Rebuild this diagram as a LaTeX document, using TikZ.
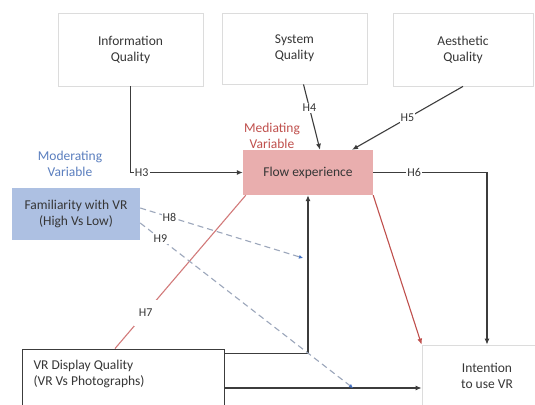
\documentclass[tikz,border=0pt]{standalone}
\usepackage{fontspec}
\setmainfont{Carlito}
\usetikzlibrary{arrows.meta,calc}
\definecolor{txt}{HTML}{363636}
\definecolor{linegrey}{HTML}{3C3C3C}
\definecolor{boxgrey}{HTML}{DCDCDC}
\definecolor{flowpink}{HTML}{E9AEAE}
\definecolor{famblue}{HTML}{ADC0E2}
\definecolor{medred}{HTML}{C0504D}
\definecolor{h7red}{HTML}{D27A7A}
\definecolor{modgrey}{HTML}{9CA7BB}
\definecolor{tipblue}{HTML}{4472C4}
\definecolor{modtext}{HTML}{5B7FBF}
\tikzset{
  boxtext/.style={font=\fontsize{13.5}{16}\selectfont, text=txt, align=center},
  greybox/.style={draw=boxgrey, line width=0.8pt, fill=white, boxtext, inner sep=0pt},
  conn/.style={draw=linegrey, line width=1.1pt, -{Latex[length=6pt,width=5pt]}},
  redconn/.style={draw=medred, line width=1.1pt, -{Latex[length=6pt,width=5pt]}},
  h7line/.style={draw=h7red, line width=1.1pt},
  modconn/.style={draw=modgrey, line width=1.1pt, dash pattern=on 6pt off 4pt,
    -{Latex[length=4pt,width=4pt,color=tipblue]}},
  hlab/.style={font=\fontsize{12}{14}\selectfont, text=txt, fill=white, inner sep=1pt}
}
\begin{document}
\begin{tikzpicture}[x=1pt,y=-1pt]
\clip (0,0) rectangle (535,404);
\fill[white] (0,0) rectangle (535,404);

% constructs
\node[greybox, minimum width=145pt, minimum height=73pt] (info) at (130.5,49.5) {Information\\Quality};
\node[greybox, minimum width=145pt, minimum height=71pt] (sys) at (294.5,48.5) {System\\Quality};
\node[greybox, minimum width=140pt, minimum height=73pt] (aes) at (463,49.5) {Aesthetic\\Quality};
\node[fill=flowpink, boxtext, inner sep=0pt, minimum width=130pt, minimum height=45pt] (flow) at (308,172.5) {Flow experience};
\node[fill=famblue, boxtext, inner sep=0pt, minimum width=128pt, minimum height=52pt] (fam) at (76,214) {Familiarity with VR\\(High Vs Low)};
\node[draw=linegrey, line width=0.9pt, fill=white, inner sep=0pt, minimum width=202pt, minimum height=80pt] (vr) at (123,389) {};
\node[boxtext, align=left, anchor=west] (vrtext) at (30,374) {VR Display Quality\\(VR Vs Photographs)};
\node[greybox, minimum width=130pt, minimum height=86pt] (intent) at (487,388) {};
\node[boxtext] (intenttext) at (487,376) {Intention\\to use VR};

% variable captions
\node[boxtext, text=modtext] (modcap) at (70,163.5) {Moderating\\Variable};
\node[boxtext, text=medred] (medcap) at (272,136) {Mediating\\Variable};

% hypotheses paths
\draw[conn] (info.south) |- node[hlab, pos=0.55] {H3} (flow.west);
\draw[conn] ([xshift=9pt]sys.south) -- node[hlab, pos=0.36] {H4} ([xshift=12pt]flow.north);
\draw[conn] (aes.south) -- node[hlab, pos=0.5] {H5} ([xshift=44pt]flow.north);
\draw[conn] (flow.east) -| node[hlab, pos=0.18] {H6} (intent.north);
\draw[redconn] (flow.south east) -- (intent.north west);
\draw[h7line] ([xshift=-8pt]vr.north) -- node[hlab, pos=0.235, minimum width=24pt, minimum height=26pt] {H7} ([xshift=3pt]flow.south west);
\draw[conn] ([yshift=-5pt]vr.north east) -| (flow.south);
\draw[conn] (vr.east |- intent.west) -- (intent.west);

% moderation paths
\coordinate (m8) at (303,258);
\coordinate (m9) at (353,388);
\draw[modconn] ([yshift=6pt]fam.east) -- node[hlab, pos=0.18] {H8} (m8);
\draw[modconn] ([yshift=-9pt]fam.east) -- node[hlab, pos=0.095] {H9} (m9);
\end{tikzpicture}
\end{document}
